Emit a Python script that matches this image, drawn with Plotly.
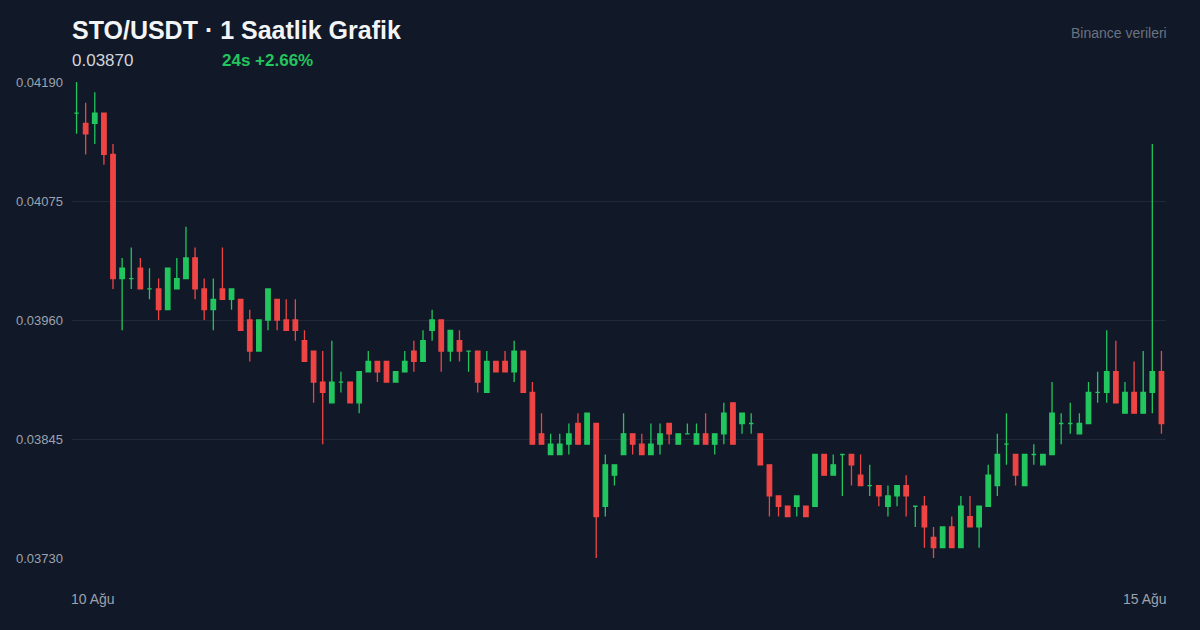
import pandas as pd
import plotly.graph_objects as go

'''STO/USDT 1h candles'''
start_time = "2025-08-10 00:00"

open_prices = [
    0.0416, 0.0415, 0.0415, 0.0416, 0.0412, 0.0400, 0.0400, 0.0401, 0.0399, 0.0399,
    0.0397, 0.0399, 0.0400, 0.0402, 0.0399, 0.0397, 0.0399, 0.0398, 0.0398, 0.0396,
    0.0393, 0.0396, 0.0398, 0.0396, 0.0396, 0.0394, 0.0393, 0.0390, 0.0388, 0.0390,
    0.0390, 0.0388, 0.0391, 0.0392, 0.0392, 0.0390, 0.0391, 0.0393, 0.0392, 0.0395,
    0.0396, 0.0393, 0.0394, 0.0393, 0.0393, 0.0389, 0.0392, 0.0392, 0.0391, 0.0393,
    0.0389, 0.0385, 0.0383, 0.0383, 0.0384, 0.0386, 0.0384, 0.0386, 0.0378, 0.0381,
    0.0383, 0.0385, 0.0384, 0.0383, 0.0384, 0.0386, 0.0384, 0.0385, 0.0384, 0.0385,
    0.0384, 0.0385, 0.0388, 0.0386, 0.0386, 0.0385, 0.0382, 0.0379, 0.0378, 0.0378,
    0.0378, 0.0378, 0.0383, 0.0381, 0.0383, 0.0383, 0.0381, 0.0380, 0.0380, 0.0378,
    0.0379, 0.0380, 0.0378, 0.0378, 0.0375, 0.0374, 0.0376, 0.0374, 0.0377, 0.0376,
    0.0378, 0.0380, 0.0384, 0.0383, 0.0380, 0.0383, 0.0382, 0.0383, 0.0386, 0.0386,
    0.0385, 0.0386, 0.0389, 0.0389, 0.0391, 0.0387, 0.0389, 0.0387, 0.0389, 0.0391,
]
high_prices = [
    0.0419, 0.0417, 0.0418, 0.0416, 0.0413, 0.0402, 0.0403, 0.0402, 0.0401, 0.0400,
    0.0401, 0.0402, 0.0405, 0.0403, 0.0400, 0.0400, 0.0403, 0.0399, 0.0398, 0.0397,
    0.0396, 0.0399, 0.0398, 0.0398, 0.0398, 0.0395, 0.0393, 0.0393, 0.0394, 0.0391,
    0.0390, 0.0391, 0.0393, 0.0392, 0.0392, 0.0391, 0.0393, 0.0394, 0.0395, 0.0397,
    0.0396, 0.0395, 0.0395, 0.0393, 0.0393, 0.0393, 0.0392, 0.0393, 0.0394, 0.0393,
    0.0390, 0.0387, 0.0385, 0.0385, 0.0386, 0.0387, 0.0387, 0.0386, 0.0383, 0.0382,
    0.0387, 0.0385, 0.0385, 0.0386, 0.0386, 0.0386, 0.0385, 0.0386, 0.0386, 0.0387,
    0.0385, 0.0388, 0.0388, 0.0387, 0.0387, 0.0385, 0.0382, 0.0379, 0.0378, 0.0379,
    0.0378, 0.0383, 0.0383, 0.0383, 0.0383, 0.0383, 0.0383, 0.0382, 0.0380, 0.0380,
    0.0380, 0.0381, 0.0378, 0.0379, 0.0376, 0.0376, 0.0377, 0.0379, 0.0379, 0.0378,
    0.0382, 0.0385, 0.0387, 0.0383, 0.0383, 0.0384, 0.0383, 0.0390, 0.0387, 0.0388,
    0.0387, 0.0390, 0.0391, 0.0395, 0.0394, 0.0390, 0.0392, 0.0393, 0.0413, 0.0393,
]
low_prices = [
    0.0414, 0.0412, 0.0413, 0.0411, 0.0399, 0.0395, 0.0399, 0.0399, 0.0398, 0.0396,
    0.0397, 0.0399, 0.0400, 0.0398, 0.0396, 0.0395, 0.0398, 0.0397, 0.0395, 0.0392,
    0.0393, 0.0395, 0.0395, 0.0395, 0.0394, 0.0392, 0.0388, 0.0384, 0.0388, 0.0389,
    0.0388, 0.0387, 0.0391, 0.0390, 0.0390, 0.0390, 0.0391, 0.0391, 0.0392, 0.0394,
    0.0391, 0.0392, 0.0392, 0.0391, 0.0389, 0.0389, 0.0391, 0.0391, 0.0390, 0.0389,
    0.0384, 0.0384, 0.0383, 0.0383, 0.0383, 0.0384, 0.0384, 0.0373, 0.0377, 0.0380,
    0.0383, 0.0383, 0.0383, 0.0383, 0.0383, 0.0384, 0.0384, 0.0385, 0.0384, 0.0384,
    0.0383, 0.0384, 0.0384, 0.0385, 0.0385, 0.0382, 0.0377, 0.0377, 0.0377, 0.0377,
    0.0377, 0.0378, 0.0381, 0.0381, 0.0379, 0.0380, 0.0380, 0.0379, 0.0378, 0.0377,
    0.0378, 0.0377, 0.0376, 0.0374, 0.0373, 0.0374, 0.0374, 0.0374, 0.0376, 0.0374,
    0.0378, 0.0379, 0.0382, 0.0380, 0.0380, 0.0382, 0.0382, 0.0383, 0.0384, 0.0385,
    0.0385, 0.0386, 0.0388, 0.0388, 0.0388, 0.0387, 0.0387, 0.0387, 0.0387, 0.0385,
]
close_prices = [
    0.0416, 0.0414, 0.0416, 0.0412, 0.0400, 0.0401, 0.0400, 0.0399, 0.0399, 0.0397,
    0.0401, 0.0400, 0.0402, 0.0399, 0.0397, 0.0398, 0.0398, 0.0399, 0.0395, 0.0393,
    0.0396, 0.0399, 0.0396, 0.0395, 0.0395, 0.0392, 0.0390, 0.0389, 0.0390, 0.0390,
    0.0388, 0.0391, 0.0392, 0.0391, 0.0390, 0.0391, 0.0392, 0.0392, 0.0394, 0.0396,
    0.0393, 0.0395, 0.0393, 0.0393, 0.0390, 0.0392, 0.0391, 0.0391, 0.0393, 0.0389,
    0.0384, 0.0384, 0.0384, 0.0384, 0.0385, 0.0384, 0.0387, 0.0377, 0.0382, 0.0382,
    0.0385, 0.0384, 0.0383, 0.0384, 0.0385, 0.0385, 0.0385, 0.0385, 0.0385, 0.0384,
    0.0385, 0.0387, 0.0384, 0.0387, 0.0386, 0.0382, 0.0379, 0.0378, 0.0377, 0.0379,
    0.0377, 0.0383, 0.0381, 0.0382, 0.0383, 0.0382, 0.0380, 0.0380, 0.0379, 0.0379,
    0.0380, 0.0379, 0.0378, 0.0376, 0.0374, 0.0376, 0.0374, 0.0378, 0.0376, 0.0378,
    0.0381, 0.0383, 0.0384, 0.0381, 0.0383, 0.0383, 0.0383, 0.0387, 0.0386, 0.0386,
    0.0386, 0.0389, 0.0389, 0.0391, 0.0388, 0.0389, 0.0387, 0.0389, 0.0391, 0.0386,
]

y_ticks = [0.0373, 0.03845, 0.0396, 0.04075, 0.0419]
x_labels = ["10 Ağu", "15 Ağu"]
title_text = "STO/USDT · 1 Saatlik Grafik"
last_price_text = "0.03870"
change_text = "24s +2.66%"
source_text = "Binance verileri"

GREEN = "#22c55e"
RED = "#ef4444"
BG = "#111827"
FONT = "Liberation Sans, Arial, sans-serif"

# Preprocess data
df = pd.DataFrame({"open": open_prices, "high": high_prices,
                   "low": low_prices, "close": close_prices})
df["time"] = pd.date_range(start_time, periods=len(df), freq="h")
up = df[df["close"] >= df["open"]]
down = df[df["close"] < df["open"]]

# Draw figure
fig = go.Figure()
for part, color in [(up, GREEN), (down, RED)]:
    fig.add_trace(go.Candlestick(
        x=part["time"], open=part["open"], high=part["high"],
        low=part["low"], close=part["close"],
        increasing=dict(line=dict(color=color, width=1.3), fillcolor=color),
        decreasing=dict(line=dict(color=color, width=1.3), fillcolor=color),
        showlegend=False))

t0 = df["time"].iloc[0] - pd.Timedelta(minutes=30)
t1 = df["time"].iloc[-1] + pd.Timedelta(minutes=30)

fig.update_layout(
    width=1200, height=630,
    paper_bgcolor=BG, plot_bgcolor=BG,
    margin={"l": 72, "r": 34, "t": 82, "b": 72, "pad": 0},
    font=dict(family=FONT, color="#9ca3af"),
    xaxis=dict(range=[t0, t1], rangeslider=dict(visible=False),
               showgrid=False, showticklabels=False, zeroline=False),
    yaxis=dict(range=[y_ticks[0], y_ticks[-1]], tickmode="array", tickvals=y_ticks,
               tickformat=".5f", showgrid=True, gridcolor="#1f2937", gridwidth=1,
               zeroline=False, ticks="", ticklabelstandoff=8,
               tickfont=dict(size=13, color="#9ca3af")),
)

annotations = [
    dict(text=f"<b>{title_text}</b>", x=0, y=(558 - 30) / 476, xanchor="left", xshift=-2,
         font=dict(size=25, color="#f3f4f6")),
    dict(text=last_price_text, x=0, y=(558 - 61) / 476, xanchor="left", xshift=-2,
         font=dict(size=17, color="#d1d5db")),
    dict(text=f"<b>{change_text}</b>", x=150 / 1094, y=(558 - 61) / 476, xanchor="left", xshift=-2,
         font=dict(size=17, color=GREEN)),
    dict(text=source_text, x=1, y=(558 - 33) / 476, xanchor="right", xshift=3,
         font=dict(size=14, color="#6b7280")),
    dict(text=x_labels[0], x=0, y=(558 - 599) / 476, xanchor="left", xshift=-3,
         font=dict(size=14, color="#9ca3af")),
    dict(text=x_labels[1], x=1, y=(558 - 599) / 476, xanchor="right", xshift=3,
         font=dict(size=14, color="#9ca3af")),
]
for a in annotations:
    fig.add_annotation(xref="paper", yref="paper", yanchor="middle",
                       showarrow=False, **a)

fig.write_html("out.html", config={"displayModeBar": False},
               post_script="document.body.style.margin='0';document.body.style.overflow='hidden';")
